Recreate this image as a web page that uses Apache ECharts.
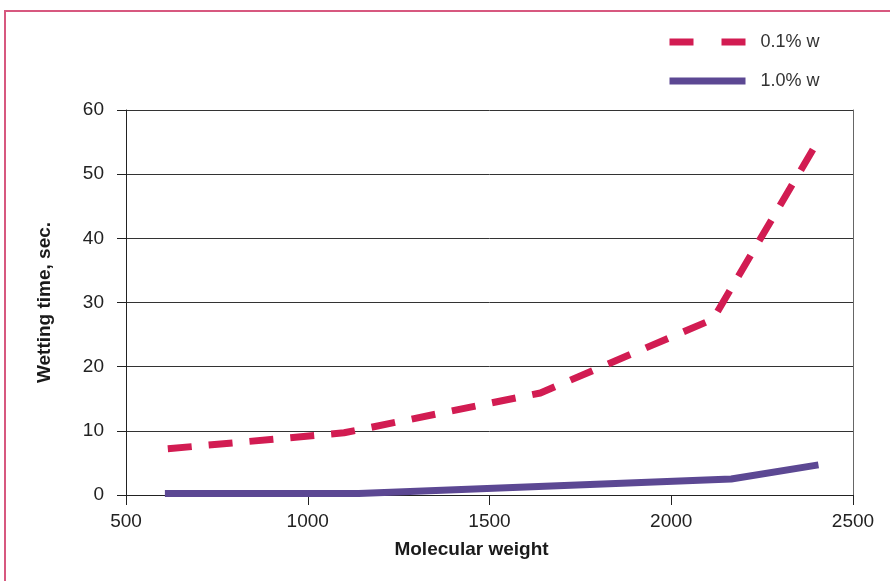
<!DOCTYPE html>
<html>
<head>
<meta charset="utf-8">
<script src="https://cdn.jsdelivr.net/npm/echarts@6/dist/echarts.min.js"></script>
<style>
html,body{margin:0;padding:0;background:#fff;overflow:hidden;}
#chart{width:890px;height:581px;position:absolute;left:0;top:0;}
#frame{position:absolute;left:4px;top:10px;width:900px;height:600px;border-left:2px solid #d7587f;border-top:2px solid #d7587f;pointer-events:none;}
</style>
</head>
<body>
<div id="chart"></div>
<div id="frame"></div>
<script>
const seriesNames = ['0.1% w', '1.0% w'];
const x01 = [615, 1100, 1640, 2115, 2405];
const y01 = [7.2, 9.7, 15.9, 27.4, 55.3];
const x10 = [607, 1140, 2165, 2405];
const y10 = [0.25, 0.25, 2.5, 4.7];
const xTicks = [500, 1000, 1500, 2000, 2500];
const yTicks = [0, 10, 20, 30, 40, 50, 60];

const RED = '#d21c52';
const PURPLE = '#5c4893';
const FONT = 'Liberation Sans';

const chart = echarts.init(document.getElementById('chart'));
chart.setOption({
  animation: false,
  backgroundColor: '#fff',
  grid: {left: 126, right: 37, top: 110, bottom: 86, containLabel: false},
  legend: {
    orient: 'vertical',
    left: 661,
    top: 28,
    itemWidth: 76,
    itemHeight: 14,
    itemGap: 21,
    textStyle: {fontFamily: FONT, fontSize: 18, color: '#333', padding: [0, 0, 0, 10]},
    data: [
      {name: seriesNames[0], itemStyle: {opacity: 0}, lineStyle: {width: 7, type: [24, 28], color: RED, cap: 'butt', opacity: 1}},
      {name: seriesNames[1], itemStyle: {opacity: 0}, lineStyle: {width: 7, type: 'solid', color: PURPLE, cap: 'butt', opacity: 1}}
    ]
  },
  xAxis: {
    type: 'value',
    min: xTicks[0], max: xTicks[xTicks.length - 1], interval: 500,
    name: 'Molecular weight',
    nameLocation: 'middle',
    nameGap: 45,
    nameTextStyle: {fontFamily: FONT, fontSize: 19, fontWeight: 'bold', color: '#1a1a1a', padding: [0, 36, 0, 0]},
    axisLine: {show: true, lineStyle: {color: '#222', width: 1}},
    axisTick: {show: true, length: 10, lineStyle: {color: '#222'}},
    axisLabel: {fontFamily: FONT, fontSize: 19, color: '#222', margin: 17, formatter: v => String(v)},
    splitLine: {show: false}
  },
  yAxis: [{
    type: 'value',
    min: yTicks[0], max: yTicks[yTicks.length - 1], interval: 10,
    name: 'Wetting time, sec.',
    nameLocation: 'middle',
    nameGap: 72,
    nameRotate: 90,
    nameTextStyle: {fontFamily: FONT, fontSize: 19, fontWeight: 'bold', color: '#1a1a1a'},
    axisLine: {show: true, lineStyle: {color: '#222', width: 1}},
    axisTick: {show: true, length: 9, lineStyle: {color: '#222'}},
    axisLabel: {fontFamily: FONT, fontSize: 19, color: '#222', margin: 22},
    splitLine: {show: true, lineStyle: {color: '#333', width: 1}}
  }, {
    type: 'value',
    position: 'right',
    min: yTicks[0], max: yTicks[yTicks.length - 1], interval: 10,
    axisLine: {show: true, lineStyle: {color: '#666', width: 1}},
    axisTick: {show: false},
    axisLabel: {show: false},
    splitLine: {show: false}
  }],
  series: [
    {
      name: seriesNames[0],
      type: 'line',
      data: x01.map((x, i) => [x, y01[i]]),
      symbol: 'none',
      lineStyle: {color: RED, width: 7, type: [24, 17], cap: 'butt', join: 'round'},
      itemStyle: {color: RED},
      z: 3
    },
    {
      name: seriesNames[1],
      type: 'line',
      data: x10.map((x, i) => [x, y10[i]]),
      symbol: 'none',
      lineStyle: {color: PURPLE, width: 7, type: 'solid', cap: 'butt', join: 'round'},
      itemStyle: {color: PURPLE},
      z: 3
    }
  ]
});
</script>
</body>
</html>
